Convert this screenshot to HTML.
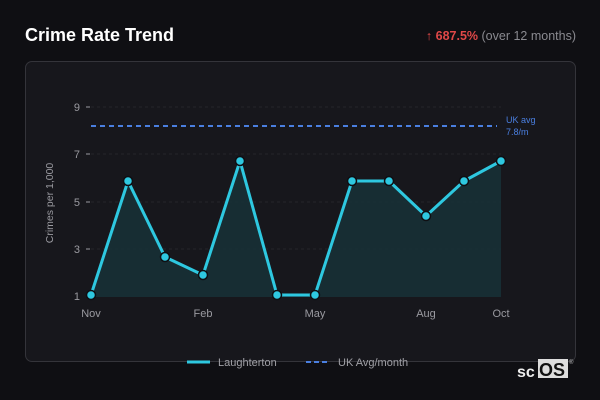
<!DOCTYPE html>
<html><head><meta charset="utf-8"><style>
body{margin:0;width:600px;height:400px;background:#0f0f13;font-family:"Liberation Sans",sans-serif;overflow:hidden;position:relative}
.t{position:absolute;left:25px;top:25px;color:#fff;font-weight:bold;font-size:18px}
.r{position:absolute;right:24px;top:29px;font-size:12.5px;color:#8a8a90}
.r b{color:#e04848}
.p{position:absolute;left:25px;top:61px;width:549px;height:299px;border:1px solid #34343a;border-radius:7px;background:#17171c}
</style></head><body>
<div class="t">Crime Rate Trend</div>
<div class="r"><b>↑ 687.5%</b> (over 12 months)</div>
<div class="p"></div>
<svg width="600" height="400" style="position:absolute;left:0;top:0" font-family="Liberation Sans,sans-serif">
<g stroke="#24242a" stroke-dasharray="3,3"><line x1="91" x2="501" y1="107" y2="107"/><line x1="91" x2="501" y1="154" y2="154"/><line x1="91" x2="501" y1="202" y2="202"/><line x1="91" x2="501" y1="249" y2="249"/></g>
<g fill="#9a9aa0" font-size="11" text-anchor="end"><text x="80" y="111">9</text><text x="80" y="158">7</text><text x="80" y="206">5</text><text x="80" y="253">3</text><text x="80" y="300">1</text></g>
<g stroke="#9a9aa0"><line x1="86" x2="90" y1="107" y2="107"/><line x1="86" x2="90" y1="154" y2="154"/><line x1="86" x2="90" y1="202" y2="202"/><line x1="86" x2="90" y1="249" y2="249"/></g>
<text transform="translate(53,203) rotate(-90)" fill="#9a9aa0" font-size="10.5" text-anchor="middle">Crimes per 1,000</text>
<g fill="#9a9aa0" font-size="11" text-anchor="middle"><text x="91" y="317">Nov</text><text x="203" y="317">Feb</text><text x="315" y="317">May</text><text x="426" y="317">Aug</text><text x="501" y="317">Oct</text></g>
<line x1="91" x2="497" y1="126" y2="126" stroke="#4a7fe0" stroke-width="2" stroke-dasharray="5,4"/>
<text x="506" y="123" fill="#4a7fe0" font-size="9">UK avg</text><text x="506" y="135" fill="#4a7fe0" font-size="9">7.8/m</text>
<polygon fill="#18333a" fill-opacity="0.8" points="91,297 91,295 128,181 165,257 203,275 240,161 277,295 315,295 352,181 389,181 426,216 464,181 501,161 501,297"/>
<polyline fill="none" stroke="#2ec8e0" stroke-width="3" stroke-linejoin="round" points="91,295 128,181 165,257 203,275 240,161 277,295 315,295 352,181 389,181 426,216 464,181 501,161"/>
<g fill="#2ec8e0" stroke="#0f0f13" stroke-width="1.5"><circle cx="91" cy="295" r="4.5"/><circle cx="128" cy="181" r="4.5"/><circle cx="165" cy="257" r="4.5"/><circle cx="203" cy="275" r="4.5"/><circle cx="240" cy="161" r="4.5"/><circle cx="277" cy="295" r="4.5"/><circle cx="315" cy="295" r="4.5"/><circle cx="352" cy="181" r="4.5"/><circle cx="389" cy="181" r="4.5"/><circle cx="426" cy="216" r="4.5"/><circle cx="464" cy="181" r="4.5"/><circle cx="501" cy="161" r="4.5"/></g>
<line x1="187" x2="210" y1="362" y2="362" stroke="#2ec8e0" stroke-width="3"/>
<text x="218" y="366" fill="#a0a0a6" font-size="11">Laughterton</text>
<line x1="306" x2="330" y1="362" y2="362" stroke="#4a7fe0" stroke-width="2" stroke-dasharray="5,3"/>
<text x="338" y="366" fill="#a0a0a6" font-size="11">UK Avg/month</text>
<text x="517" y="377" fill="#eee" font-size="16" font-weight="bold">sc</text>
<rect x="538" y="359" width="30" height="19" fill="#ddd"/>
<text x="539" y="376" fill="#111" font-size="18" font-weight="bold">OS</text>
<text x="569" y="364" fill="#bbb" font-size="6">®</text>
</svg>
</body></html>
